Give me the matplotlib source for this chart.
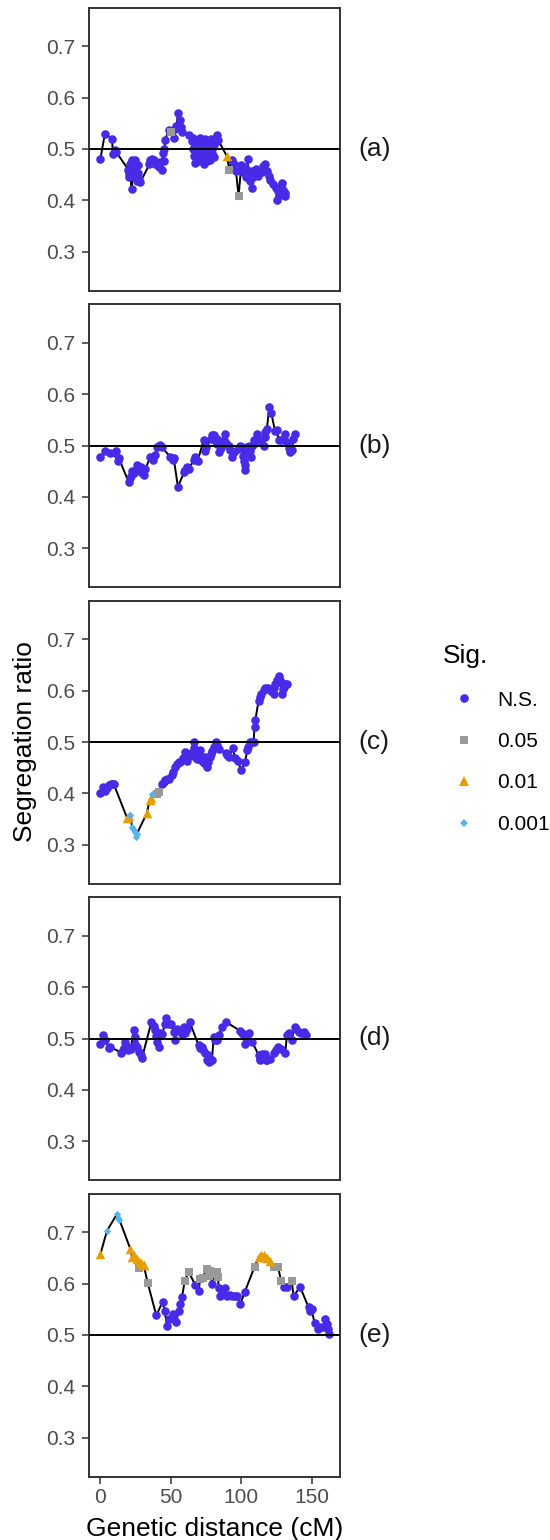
import matplotlib
matplotlib.use('Agg')
import matplotlib.pyplot as plt
from matplotlib.lines import Line2D
import numpy as np

plt.rcParams['font.family'] = ['Liberation Sans', 'DejaVu Sans']

# ---------------- data ----------------
panel_labels = ['(a)', '(b)', '(c)', '(d)', '(e)']
sig_levels = ['N.S.', '0.05', '0.01', '0.001']
sig_codes = {'n': 'N.S.', 's': '0.05', 't': '0.01', 'd': '0.001'}
y_ticks = [0.3, 0.4, 0.5, 0.6, 0.7]
x_ticks = [0, 50, 100, 150]
y_limits = (0.25, 0.75)
ref_ratio = 0.5

pos_a = [0.0, 3.2, 8.3, 8.8, 10.6, 11.2, 19.8, 20.2, 20.6, 21.0,
         21.4, 21.8, 22.1, 22.5, 23.0, 23.6, 24.2, 24.7, 25.2, 25.8,
         26.4, 27.0, 27.7, 28.4, 34.8, 35.5, 36.8, 37.8, 39.0, 40.2,
         41.5, 42.5, 43.7, 44.2, 44.8, 45.4, 46.0, 48.5, 50.4, 52.0,
         53.2, 54.0, 55.0, 56.3, 57.0, 58.0, 62.6, 65.0, 65.6, 66.0,
         66.5, 67.0, 67.5, 68.0, 68.6, 69.2, 69.8, 70.4, 71.0, 71.6,
         72.2, 72.8, 73.4, 74.0, 74.6, 75.2, 75.8, 76.4, 77.0, 77.6,
         78.2, 78.8, 79.4, 80.0, 80.8, 81.5, 82.7, 83.5, 89.8, 91.5,
         93.4, 94.5, 96.2, 98.1, 100.0, 101.2, 102.4, 103.4, 104.5, 105.2,
         106.0, 107.0, 107.6, 108.5, 109.5, 110.8, 112.0, 113.2, 114.5, 115.5,
         117.0, 118.2, 119.4, 120.6, 122.5, 124.5, 125.3, 126.2, 127.2, 128.2,
         129.0, 129.8, 130.7, 131.2]
ratio_a = [0.481, 0.530, 0.520, 0.491, 0.499, 0.494, 0.460, 0.452, 0.445, 0.470,
           0.448, 0.462, 0.422, 0.479, 0.455, 0.446, 0.470, 0.478, 0.458, 0.437,
           0.453, 0.468, 0.440, 0.436, 0.470, 0.479, 0.481, 0.479, 0.470, 0.473,
           0.465, 0.475, 0.460, 0.492, 0.476, 0.500, 0.518, 0.536, 0.534, 0.521,
           0.538, 0.545, 0.569, 0.557, 0.543, 0.534, 0.528, 0.515, 0.500, 0.521,
           0.487, 0.472, 0.506, 0.516, 0.493, 0.477, 0.510, 0.521, 0.498, 0.482,
           0.503, 0.513, 0.471, 0.494, 0.519, 0.488, 0.476, 0.507, 0.497, 0.478,
           0.510, 0.520, 0.492, 0.504, 0.484, 0.512, 0.528, 0.518, 0.486, 0.460,
           0.479, 0.470, 0.458, 0.408, 0.468, 0.455, 0.465, 0.445, 0.480, 0.452,
           0.438, 0.458, 0.424, 0.446, 0.456, 0.462, 0.448, 0.458, 0.455, 0.466,
           0.470, 0.458, 0.448, 0.440, 0.432, 0.425, 0.400, 0.418, 0.410, 0.428,
           0.434, 0.420, 0.414, 0.408]
sig_a = ("nnnnnnnnnn nnnnnnnnnn nnnnnnnnnn nnnnnnnnsn nnnnnnnnnn nnnnnnnnnn "
         "nnnnnnnnnn nnnnnnnnts nnnsnnnnnn nnnnnnnnnn nnnnnnnnnn nnnn")

pos_b = [0.0, 3.5, 7.0, 10.5, 11.3, 12.3, 13.0, 20.0, 21.0, 21.5,
         22.5, 24.0, 26.0, 27.2, 28.5, 29.6, 30.7, 32.0, 35.5, 37.5,
         39.0, 40.2, 41.5, 42.5, 43.5, 49.6, 51.3, 52.0, 55.0, 59.5,
         60.3, 61.5, 62.6, 66.5, 67.4, 69.0, 73.3, 74.0, 75.0, 78.5,
         79.2, 80.5, 81.5, 82.5, 83.0, 84.0, 85.5, 87.5, 88.7, 89.5,
         91.0, 92.0, 93.4, 94.5, 97.5, 99.3, 100.5, 101.2, 101.8, 102.4,
         102.8, 103.5, 104.2, 105.2, 106.0, 106.9, 107.8, 108.7, 109.8, 111.0,
         112.5, 114.0, 115.8, 116.5, 117.0, 118.2, 119.9, 121.3, 124.0, 125.3,
         126.5, 128.5, 130.5, 131.2, 132.5, 134.0, 134.8, 136.0, 137.0, 138.3]
ratio_b = [0.478, 0.490, 0.486, 0.485, 0.489, 0.470, 0.476, 0.429, 0.436, 0.440,
           0.451, 0.447, 0.462, 0.452, 0.458, 0.446, 0.442, 0.455, 0.478, 0.472,
           0.481, 0.497, 0.500, 0.501, 0.497, 0.478, 0.472, 0.476, 0.420, 0.448,
           0.452, 0.458, 0.455, 0.472, 0.478, 0.470, 0.510, 0.490, 0.497, 0.513,
           0.520, 0.520, 0.510, 0.502, 0.512, 0.488, 0.495, 0.510, 0.523, 0.505,
           0.500, 0.492, 0.478, 0.488, 0.493, 0.500, 0.498, 0.480, 0.470, 0.462,
           0.453, 0.485, 0.498, 0.500, 0.490, 0.478, 0.500, 0.510, 0.505, 0.523,
           0.512, 0.508, 0.500, 0.516, 0.526, 0.533, 0.574, 0.563, 0.528, 0.530,
           0.510, 0.510, 0.512, 0.523, 0.505, 0.495, 0.488, 0.491, 0.512, 0.523]
sig_b = ("nnnnnnnnnn nnnnnnnnnn nnnnnnnnnn nnnnnnnnnn nnnnnnnnnn nnnnnnnnnn "
         "nnnnnnnnnn nnnnnnnnnn nnnnnnnnnn")

pos_c = [0.0, 2.0, 3.0, 4.5, 6.0, 7.5, 8.5, 9.5, 19.0, 20.1,
         21.3, 22.5, 23.3, 24.3, 25.3, 26.0, 33.0, 35.0, 35.8, 36.8,
         40.5, 41.4, 43.7, 45.0, 46.1, 47.5, 48.5, 50.5, 51.8, 53.2,
         54.4, 55.5, 56.7, 58.5, 60.3, 61.5, 63.0, 64.5, 66.2, 66.6,
         67.5, 68.5, 69.7, 71.0, 72.0, 73.5, 74.5, 75.7, 76.5, 77.5,
         78.7, 79.5, 80.4, 82.0, 83.0, 84.0, 89.0, 89.8, 91.0, 93.9,
         95.7, 97.5, 100.0, 102.8, 104.2, 104.7, 106.4, 107.5, 108.7, 109.5,
         110.0, 112.3, 113.5, 114.2, 116.0, 117.0, 118.9, 121.0, 122.9, 123.5,
         124.1, 125.5, 126.5, 127.2, 127.7, 128.8, 129.5, 130.0, 130.6, 131.2,
         132.4]
ratio_c = [0.400, 0.413, 0.405, 0.410, 0.416, 0.418, 0.418, 0.418, 0.352, 0.356,
           0.358, 0.335, 0.330, 0.325, 0.316, 0.322, 0.362, 0.388, 0.392, 0.399,
           0.398, 0.403, 0.419, 0.422, 0.426, 0.428, 0.429, 0.435, 0.441, 0.451,
           0.458, 0.462, 0.461, 0.468, 0.480, 0.464, 0.472, 0.478, 0.500, 0.488,
           0.470, 0.466, 0.477, 0.484, 0.464, 0.460, 0.470, 0.451, 0.462, 0.470,
           0.477, 0.483, 0.490, 0.500, 0.495, 0.487, 0.478, 0.474, 0.470, 0.488,
           0.468, 0.463, 0.446, 0.461, 0.485, 0.490, 0.500, 0.500, 0.500, 0.530,
           0.543, 0.580, 0.588, 0.594, 0.602, 0.604, 0.605, 0.600, 0.594, 0.605,
           0.613, 0.620, 0.629, 0.620, 0.616, 0.594, 0.603, 0.607, 0.612, 0.613,
           0.613]
sig_c = ("nnnnnnnntt ddddddtttd ssnnnnnnnn nnnnnnnnnn nnnnnnnnnn nnnnnnnnnn "
         "nnnnnnnnnn nnnnnnnnnn nnnnnnnnnn n")

pos_d = [0.0, 1.7, 3.5, 5.9, 7.0, 14.9, 16.0, 16.5, 17.7, 18.5,
         19.6, 21.5, 23.6, 24.3, 24.8, 26.0, 27.2, 28.5, 29.6, 36.2,
         38.0, 39.0, 39.7, 40.5, 41.4, 42.6, 44.0, 45.6, 46.8, 48.5,
         50.4, 52.0, 53.2, 54.4, 55.5, 56.7, 58.0, 59.1, 60.3, 61.5,
         63.4, 69.7, 71.0, 72.1, 73.0, 74.5, 75.6, 76.2, 76.8, 78.0,
         79.2, 80.4, 81.5, 82.7, 84.0, 86.3, 89.1, 99.3, 100.5, 101.7,
         102.4, 103.5, 105.2, 107.6, 112.3, 113.0, 113.5, 114.5, 115.8, 116.8,
         117.5, 118.2, 120.6, 122.9, 124.5, 126.0, 128.5, 131.2, 132.4, 134.0,
         135.9, 137.8, 139.0, 140.7, 142.5, 144.2, 145.9]
ratio_d = [0.490, 0.506, 0.497, 0.481, 0.484, 0.472, 0.478, 0.481, 0.494, 0.486,
           0.477, 0.480, 0.516, 0.503, 0.490, 0.484, 0.474, 0.468, 0.463, 0.532,
           0.524, 0.516, 0.505, 0.494, 0.484, 0.510, 0.508, 0.528, 0.539, 0.529,
           0.529, 0.512, 0.497, 0.519, 0.515, 0.516, 0.508, 0.523, 0.510, 0.518,
           0.532, 0.487, 0.482, 0.484, 0.478, 0.471, 0.458, 0.468, 0.455, 0.461,
           0.458, 0.503, 0.498, 0.497, 0.506, 0.523, 0.532, 0.515, 0.510, 0.506,
           0.490, 0.502, 0.510, 0.494, 0.468, 0.460, 0.458, 0.470, 0.464, 0.470,
           0.459, 0.458, 0.461, 0.471, 0.478, 0.484, 0.480, 0.471, 0.506, 0.510,
           0.497, 0.523, 0.518, 0.513, 0.510, 0.513, 0.506]
sig_d = ("nnnnnnnnnn nnnnnnnnnn nnnnnnnnnn nnnnnnnnnn nnnnnnnnnn nnnnnnnnnn "
         "nnnnnnnnnn nnnnnnnnnn nnnnnnn")

pos_e = [0.0, 4.7, 11.8, 12.6, 13.5, 21.3, 22.5, 23.5, 26.0, 27.2,
         28.4, 29.5, 30.7, 33.6, 39.7, 44.2, 45.6, 47.3, 48.5, 51.3,
         52.0, 53.7, 55.6, 56.7, 57.9, 59.8, 62.6, 67.4, 69.7, 70.9,
         72.5, 75.6, 76.8, 78.0, 79.2, 80.4, 81.5, 82.7, 83.5, 84.0,
         85.1, 87.0, 88.7, 89.8, 92.0, 93.4, 95.5, 97.0, 99.3, 102.4,
         109.5, 112.3, 114.0, 115.8, 116.8, 118.2, 120.6, 122.9, 126.0, 128.4,
         130.5, 132.4, 135.9, 137.1, 141.8, 147.8, 148.9, 150.0, 152.0, 154.8,
         156.5, 158.4, 159.6, 160.8, 161.5, 162.0]
ratio_e = [0.657, 0.703, 0.735, 0.728, 0.724, 0.667, 0.651, 0.655, 0.648, 0.631,
           0.641, 0.638, 0.636, 0.601, 0.538, 0.565, 0.547, 0.518, 0.532, 0.541,
           0.531, 0.526, 0.547, 0.560, 0.573, 0.604, 0.623, 0.597, 0.586, 0.609,
           0.610, 0.629, 0.615, 0.625, 0.599, 0.618, 0.620, 0.623, 0.612, 0.591,
           0.576, 0.580, 0.591, 0.576, 0.577, 0.576, 0.576, 0.576, 0.560, 0.583,
           0.633, 0.651, 0.656, 0.655, 0.651, 0.650, 0.644, 0.633, 0.633, 0.604,
           0.594, 0.594, 0.604, 0.576, 0.593, 0.554, 0.547, 0.550, 0.523, 0.512,
           0.515, 0.515, 0.531, 0.521, 0.512, 0.502]
sig_e = ("tddddtttts tttsnnnnnn nnnnnssnns ssssnssssn nnnnnnnnnn sttttttsss "
         "nnsnnnnnnn nnnnnn")

panels = [(pos_a, ratio_a, sig_a), (pos_b, ratio_b, sig_b), (pos_c, ratio_c, sig_c),
          (pos_d, ratio_d, sig_d), (pos_e, ratio_e, sig_e)]

# ---------------- style ----------------
styles = {
    'N.S.':  dict(marker='o', color='#482BE6', s=38, lsize=6.2),
    '0.05':  dict(marker='s', color='#999999', s=38, lsize=6.0),
    '0.01':  dict(marker='^', color='#E69F00', s=48, lsize=6.8),
    '0.001': dict(marker='D', color='#56B4E9', s=14, lsize=3.6),
}
W, H = 550.0, 1540.0
left_px, right_px = 89.0, 340.0
top0, ph, step = 7.5, 283.0, 296.5
frame_col = '#333333'

fig = plt.figure(figsize=(W / 100, H / 100), dpi=100)

all_pos = np.concatenate([np.asarray(p[0]) for p in panels])
xmin, xmax = all_pos.min(), all_pos.max()
xpad = 0.05 * (xmax - xmin)
ypad = 0.05 * (y_limits[1] - y_limits[0])

for i, (pos, ratio, sig) in enumerate(panels):
    top = top0 + i * step
    ax = fig.add_axes([left_px / W, 1 - (top + ph) / H, (right_px - left_px) / W, ph / H])
    pos = np.asarray(pos)
    ratio = np.asarray(ratio)
    codes = np.array(list(sig.replace(' ', '')))
    levels = np.array([sig_codes[c] for c in codes])

    ax.plot(pos, ratio, color='black', lw=1.4, zorder=2)
    for lev in sig_levels:
        m = levels == lev
        if m.any():
            st = styles[lev]
            ax.scatter(pos[m], ratio[m], marker=st['marker'], s=st['s'],
                       color=st['color'], linewidths=0, zorder=3)
    ax.axhline(ref_ratio, color='black', lw=1.4, zorder=4)

    ax.set_xlim(xmin - xpad, xmax + xpad)
    ax.set_ylim(y_limits[0] - ypad, y_limits[1] + ypad)
    ax.set_yticks(y_ticks)
    ax.set_yticklabels([f'{v:.1f}' for v in y_ticks])
    ax.tick_params(axis='y', length=4.7, width=1.1, color=frame_col,
                   labelcolor='#4D4D4D', labelsize=15, pad=5.5)
    if i == len(panels) - 1:
        ax.set_xticks(x_ticks)
        ax.set_xticklabels([str(v) for v in x_ticks])
        ax.tick_params(axis='x', length=4.7, width=1.1, color=frame_col,
                       labelcolor='#4D4D4D', labelsize=15, pad=3.5)
    else:
        ax.tick_params(axis='x', bottom=False, labelbottom=False)
    for sp in ax.spines.values():
        sp.set_color(frame_col)
        sp.set_linewidth(1.4)
    ax.text(1 + 18 / (right_px - left_px), 0.5, panel_labels[i], transform=ax.transAxes,
            ha='left', va='center', fontsize=19, color='#1A1A1A')

fig.text(25 / W, 1 - 742 / H, 'Segregation ratio', rotation=90, ha='center',
         va='center', fontsize=19, color='black')
fig.text((left_px + right_px) / 2 / W, 1 - 1536 / H, 'Genetic distance (cM)',
         ha='center', va='baseline', fontsize=19, color='black')

handles = [Line2D([0], [0], marker=styles[l]['marker'], linestyle='none',
                  color=styles[l]['color'], markeredgewidth=0,
                  markersize=styles[l]['lsize']) for l in sig_levels]
fig.legend(handles, sig_levels, loc='upper left',
           bbox_to_anchor=(443 / W, 1 - 644 / H), frameon=False, fontsize=15,
           title='Sig.', title_fontsize=19, alignment='left', borderpad=0,
           borderaxespad=0, handlelength=2.0, handletextpad=0.6, labelspacing=1.08)

fig.savefig('out.png', dpi=100)
